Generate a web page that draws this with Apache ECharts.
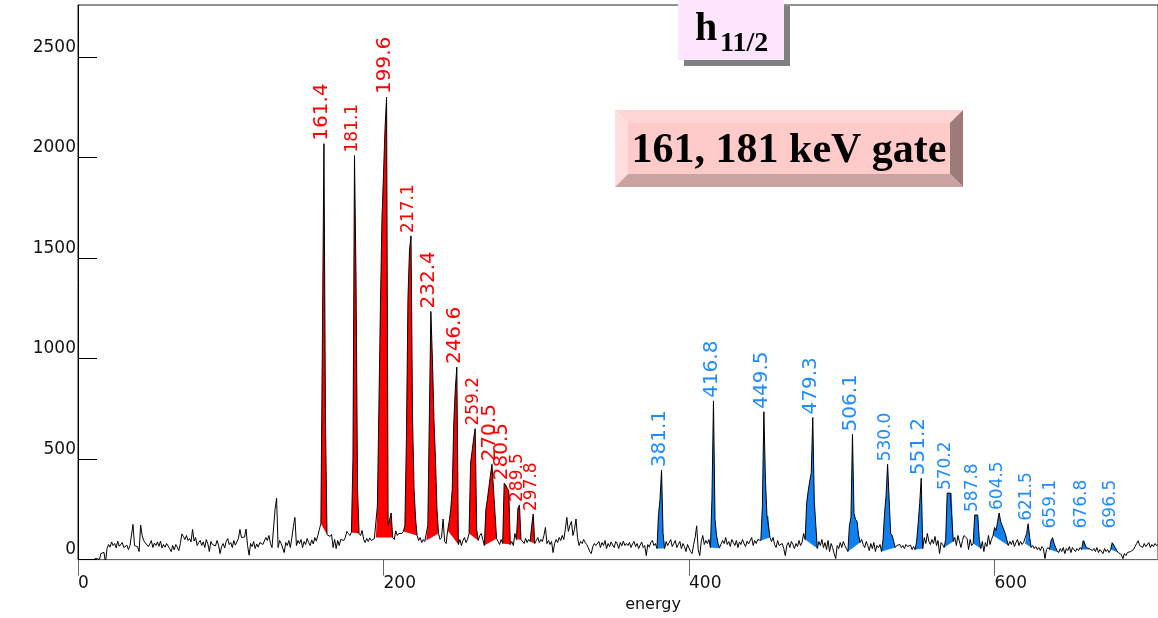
<html>
<head>
    <meta charset='utf-8'/>
    <title>161, 181 keV gate - h11/2 band</title>
    <style>
        body {
            margin: 0;
            padding: 0;
            background: #fff;
        }

        #chart {
            width: 1158px;
            height: 618px;
        }
    </style>
    <script src="https://cdn.jsdelivr.net/npm/echarts@6/dist/echarts.min.js"></script>
</head>
<body>
<div id='chart'></div>
<script type="text/javascript">
    // gated spectrum, one channel per keV (channel index = energy)
    var counts = [
        0, 0, 0, 0, 0, 0, 0, 0, 0, 0, 0, 0, 6, 0, 0, 30, 35, 36, -15, 55,
        75, 62, 88, 70, 80, 58, 92, 66, 75, 85, 60, 55, 72, 50, 68, 60, 175, 70, 78, 64,
        40, 172, 120, 95, 84, 90, 65, 78, 95, 60, 82, 70, 88, 66, 92, 58, 75, 62, 80, 72,
        55, 40, 70, 48, 75, 62, 45, 80, 128, 115, 100, 120, 95, 105, 88, 150, 92, 110, 70, 85,
        95, 70, 88, 60, 100, 78, 40, 90, 75, 82, 68, 95, 72, 30, 65, 80, 58, 90, 105, 75,
        85, 60, 95, 72, 88, 105, 150, 110, 108, 112, 152, 70, 22, 80, 65, 90, 55, 78, 62, 85,
        90, 75, 68, 110, 95, 120, 80, 60, 55, 250, 305, 60, 95, 80, 72, 35, 85, 70, 95, 60,
        110, 165, 210, 70, 95, 80, 100, 60, 90, 75, 105, 85, 70, 98, 78, 110, 92, 120, 150, 180,
        1100, 2070, 700, 125, 130, 115, 125, 60, 100, 55, 95, 70, 100, 105, 95, 110, 140, 130, 120, 135,
        500, 2011, 1400, 350, 130, 120, 145, 100, 85, 105, 90, 108, 95, 88, 105, 110, 267, 767, 1266, 1700,
        1920, 2145, 2302, 170, 200, 232, 110, 100, 143, 120, 130, 125, 130, 140, 170, 600, 1300, 1537, 1611, 700,
        350, 200, 120, 95, 110, 85, 100, 90, 95, 170, 700, 1235, 1000, 700, 500, 250, 130, 100, 110, 202,
        90, 80, 145, 190, 250, 350, 680, 850, 958, 75, 100, 70, 95, 110, 85, 100, 130, 480, 540, 600,
        652, 150, 95, 120, 130, 100, 70, 250, 300, 360, 420, 474, 350, 230, 105, 90, 75, 100, 80, 380,
        370, 355, 340, 75, 90, 70, 130, 100, 255, 272, 100, 95, 80, 105, 85, 100, 90, 170, 227, 80,
        95, 110, 85, 100, 90, 120, 160, 80, 95, 75, 90, 35, 80, 100, 85, 110, 95, 120, 100, 150,
        210, 140, 170, 190, 120, 150, 202, 110, 70, 90, 80, 100, 85, 75, 60, 40, 30, 65, 80, 70,
        75, 90, 60, 85, 70, 95, 55, 80, 65, 88, 72, 60, 90, 78, 55, 85, 68, 92, 70, 80,
        70, 85, 60, 78, 90, 65, 80, 55, 72, 88, 60, 70, 20, 75, 62, 85, 95, 70, 80, 55,
        220, 300, 445, 130, 55, 90, 70, 85, 100, 65, 80, 95, 60, 75, 90, 55, 80, 65, 40, 75,
        70, 40, 30, 75, 110, 168, 50, 20, 90, 120, 75, 95, 80, 100, 60, 300, 790, 200, 120, 80,
        60, 55, 95, 80, 110, 75, 90, 65, 100, 85, 70, 95, 60, 88, 75, 100, 80, 65, 92, 78,
        85, 110, 70, 95, 80, 100, 105, 95, 260, 736, 400, 220, 215, 110, 90, 110, 75, 60, 95, 70,
        65, 80, 55, 20, 70, 85, 60, 90, 75, 55, 80, 65, 95, 70, 85, 130, 100, 280, 340, 390,
        430, 707, 290, 170, 55, 90, 70, 100, 60, 85, 50, 95, 40, 80, 60, 30, 5, 70, 55, 85,
        60, 90, 70, 55, 40, 170, 210, 623, 230, 200, 190, 120, 85, 100, 75, 60, 90, 70, 45, 80,
        55, 85, 40, 70, 60, 75, 40, 100, 230, 320, 474, 300, 130, 120, 90, 60, 70, 65, 75, 60,
        70, 55, 75, 65, 60, 72, 50, 65, 50, 90, 180, 280, 405, 55, 110, 80, 130, 90, 75, 100,
        80, 115, 70, 95, 30, 85, 75, 60, 100, 331, 331, 331, 331, 90, 110, 70, 120, 115, 60, 95,
        120, 115, 105, 50, 100, 70, 80, 222, 222, 222, 100, 55, 90, 40, 85, 65, 120, 75, 100, 120,
        160, 145, 190, 232, 190, 170, 150, 130, 100, 70, 90, 75, 95, 65, 85, 100, 70, 90, 75, 85,
        80, 130, 178, 110, 60, 70, 55, 65, 50, 60, 45, 65, 55, 5, 50, 60, 50, 95, 109, 80,
        60, 45, 35, 55, 40, 60, 30, 55, 45, 65, 35, 60, 50, 40, 55, 45, 60, 50, 94, 94,
        60, 55, 55, 50, 45, 55, 40, 60, 35, 50, 45, 30, 55, 40, 50, 35, 50, 84, 75, 60,
        45, 35, 40, 25, 5, 30, 20, 35, 30, 40, 35, 50, 65, 80, 94, 70, 75, 60, 80, 65,
        70, 85, 60, 75, 65, 80, 70, 75
    ];

    // marked transitions: label, first and last channel of the peak, band (0 = red, 1 = blue)
    var peakLabels = ['161.4', '181.1', '199.6', '217.1', '232.4', '246.6', '259.2', '270.5', '280.5', '289.5', '297.8',
        '381.1', '416.8', '449.5', '479.3', '506.1', '530.0', '551.2', '570.2', '587.8', '604.5', '621.5', '659.1', '676.8', '696.5'];
    var peakStart = [159, 179, 195, 213, 228, 242, 256, 266, 278, 287, 296,
        379, 414, 447, 476, 504, 526, 548, 567, 586, 599, 620, 636, 657, 676];
    var peakEnd = [163, 184, 206, 222, 236, 249, 262, 274, 283, 290, 299,
        384, 421, 453, 484, 512, 535, 553, 573, 591, 609, 624, 642, 663, 681];
    var peakBand = [0, 0, 0, 0, 0, 0, 0, 0, 0, 0, 0,
        1, 1, 1, 1, 1, 1, 1, 1, 1, 1, 1, 1, 1, 1];

    var xTickLabels = ['0', '200', '400', '600'];
    var yTickLabels = ['0', '500', '1000', '1500', '2000', '2500'];

    // styles
    var bandFill = ['#ff0000', '#1080f0'];
    var bandText = ['#ff0000', '#1e8cff'];
    var smallLabels = ['181.1', '217.1', '259.2', '289.5', '297.8', '530.0', '570.2', '587.8',
        '604.5', '621.5', '659.1', '676.8', '696.5'];
    var labelFloor = 140;
    var axisFont = 'DejaVu Sans';

    var spectrum = counts.map(function (c, i) {
        return [i, c];
    });
    var peaks = peakStart.map(function (s, i) {
        return [s, peakEnd[i]];
    });

    function renderPeak(params, api) {
        var i = params.dataIndex;
        var pts = [];
        var top = peakStart[i];
        for (var k = peakStart[i]; k <= peakEnd[i]; k++) {
            pts.push(api.coord([k, counts[k]]));
            if (counts[k] > counts[top]) top = k;
        }
        var anchor = api.coord([top, Math.max(counts[top], labelFloor)]);
        var size = smallLabels.indexOf(peakLabels[i]) >= 0 ? 17 : 20;
        return {
            type: 'group',
            children: [{
                type: 'polygon',
                shape: {points: pts},
                style: {fill: bandFill[peakBand[i]], stroke: null}
            }, {
                type: 'text',
                x: anchor[0] - 2,
                y: anchor[1] - 3,
                rotation: Math.PI / 2,
                style: {
                    text: peakLabels[i],
                    fill: bandText[peakBand[i]],
                    font: size + 'px "DejaVu Sans"',
                    align: 'left',
                    verticalAlign: 'middle'
                }
            }]
        };
    }

    var chart = echarts.init(document.getElementById('chart'), null, {renderer: 'canvas'});

    var option = {
        animation: false,
        backgroundColor: '#fff',
        grid: {
            left: 78,
            right: 0,
            top: 5,
            bottom: 54,
            show: true,
            borderColor: '#222',
            borderWidth: 1,
            backgroundColor: 'transparent'
        },
        xAxis: {
            type: 'value',
            min: 0,
            max: 707,
            interval: 200,
            name: 'energy',
            nameLocation: 'middle',
            nameGap: 36,
            nameTextStyle: {
                fontFamily: axisFont,
                fontSize: 16,
                color: '#111',
                padding: [0, 0, 0, 70]
            },
            axisLine: {lineStyle: {color: '#666', width: 1}},
            axisTick: {show: true, inside: false, length: 16, lineStyle: {color: '#666'}},
            axisLabel: {
                showMaxLabel: false,
                align: 'left',
                verticalAlign: 'middle',
                margin: 24,
                fontFamily: axisFont,
                fontSize: 17,
                color: '#111',
                formatter: function (v) {
                    return xTickLabels.indexOf(String(v)) >= 0 ? String(v) : '';
                }
            },
            splitLine: {show: false}
        },
        yAxis: {
            type: 'value',
            min: 0,
            max: 2760,
            interval: 500,
            axisLine: {show: true, lineStyle: {color: '#000', width: 1}},
            axisTick: {show: true, inside: true, length: 19, lineStyle: {color: '#000'}},
            axisLabel: {
                showMaxLabel: false,
                margin: 2,
                verticalAlign: 'bottom',
                lineHeight: 20,
                fontFamily: axisFont,
                fontSize: 17,
                color: '#111',
                formatter: function (v) {
                    return yTickLabels.indexOf(String(v)) >= 0 ? String(v) : '';
                }
            },
            splitLine: {show: false}
        },
        series: [{
            name: 'peaks',
            type: 'custom',
            coordinateSystem: 'cartesian2d',
            renderItem: renderPeak,
            data: peaks,
            z: 1,
            silent: true
        }, {
            name: 'spectrum',
            type: 'line',
            data: spectrum,
            showSymbol: false,
            symbol: 'none',
            sampling: null,
            lineStyle: {color: '#000', width: 1},
            z: 2,
            silent: true
        }],
        graphic: [
            // h11/2 tag with drop shadow
            {type: 'rect', z: 100, shape: {x: 684, y: 6, width: 106, height: 60}, style: {fill: '#808080'}},
            {type: 'rect', z: 101, shape: {x: 678, y: 0, width: 106, height: 60}, style: {fill: '#fde5fd'}},
            {type: 'text', z: 102, x: 695, y: 30, style: {text: 'h', font: 'bold 40px "Liberation Serif"', fill: '#000', verticalAlign: 'middle'}},
            {type: 'text', z: 102, x: 720, y: 44, style: {text: '11/2', font: 'bold 28px "Liberation Serif"', fill: '#000', verticalAlign: 'middle'}},
            // bevelled gate box
            {type: 'polygon', z: 100, shape: {points: [[615, 110], [963, 110], [950, 123], [628, 123]]}, style: {fill: '#ffd4d4'}},
            {type: 'polygon', z: 100, shape: {points: [[615, 110], [628, 123], [628, 174], [615, 187]]}, style: {fill: '#ffdddd'}},
            {type: 'polygon', z: 100, shape: {points: [[963, 110], [963, 187], [950, 174], [950, 123]]}, style: {fill: '#9d7b7b'}},
            {type: 'polygon', z: 100, shape: {points: [[615, 187], [628, 174], [950, 174], [963, 187]]}, style: {fill: '#caa2a2'}},
            {type: 'rect', z: 100, shape: {x: 628, y: 123, width: 322, height: 51}, style: {fill: '#ffcaca'}},
            {type: 'text', z: 102, x: 789, y: 151, style: {text: '161, 181 keV gate', font: 'bold 42px "Liberation Serif"', fill: '#000', align: 'center', verticalAlign: 'middle'}}
        ]
    };

    chart.setOption(option);
</script>
</body>
</html>
